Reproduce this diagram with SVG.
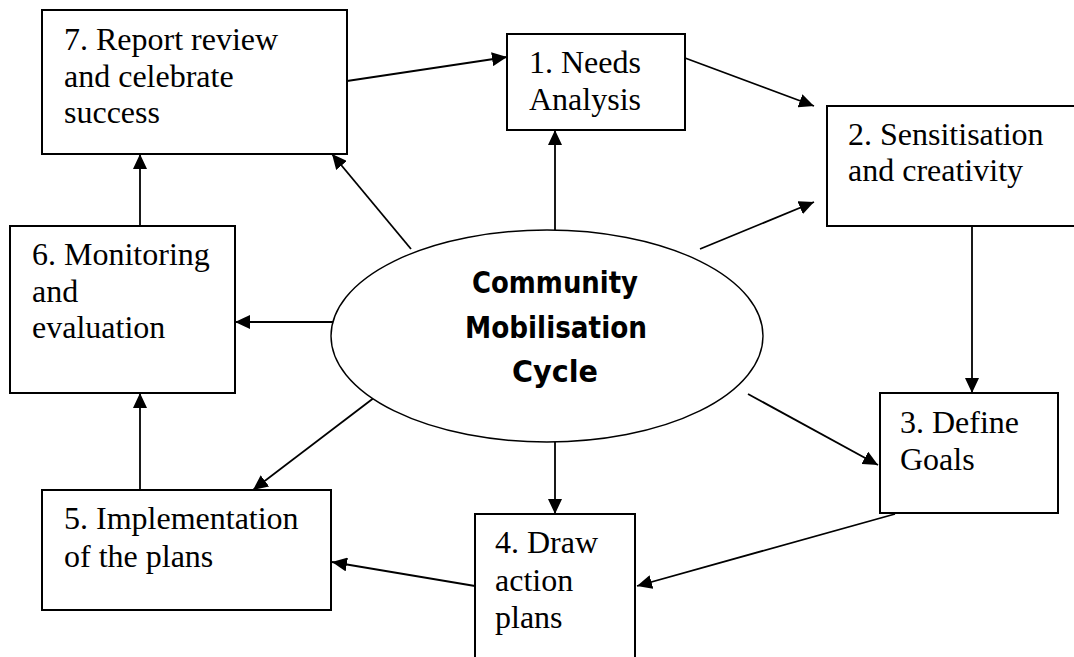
<svg xmlns="http://www.w3.org/2000/svg" width="1074" height="657" viewBox="0 0 1074 657">
<style>
.box{fill:#fff;stroke:#000;stroke-width:2}
.t{font-family:"Liberation Serif","Times New Roman",serif;font-size:32px;fill:#000}
.c{fill:none;stroke:#000;stroke-width:1.8;marker-end:url(#ah)}
.hub{fill:#fff;stroke:#000;stroke-width:1.4}
.ht{font-family:"DejaVu Sans",sans-serif;font-weight:bold;font-size:30px;fill:#000;text-anchor:middle}
</style>
<defs>
<marker id="ah" markerUnits="userSpaceOnUse" markerWidth="16" markerHeight="14" refX="15" refY="7" orient="auto">
<path d="M0,0 L15,7 L0,14 z" fill="#000"/>
</marker>
</defs>
<rect width="1074" height="657" fill="#fff"/>
<g id="connectors">
<line class="c" x1="347" y1="81" x2="507" y2="57"/>
<line class="c" x1="685" y1="58" x2="814" y2="106"/>
<line class="c" x1="700" y1="249" x2="814" y2="202"/>
<line class="c" x1="555" y1="230" x2="555" y2="130"/>
<line class="c" x1="972" y1="226" x2="972" y2="393"/>
<line class="c" x1="748" y1="394" x2="878" y2="465"/>
<line class="c" x1="895" y1="514" x2="637" y2="586"/>
<line class="c" x1="555" y1="442" x2="555" y2="514"/>
<line class="c" x1="475" y1="586" x2="332" y2="562"/>
<line class="c" x1="379" y1="394" x2="253" y2="490"/>
<line class="c" x1="140" y1="490" x2="140" y2="393"/>
<line class="c" x1="333" y1="322" x2="235" y2="322"/>
<line class="c" x1="140" y1="226" x2="140" y2="154"/>
<line class="c" x1="411" y1="249" x2="332" y2="154"/>
</g>
<g id="hub">
<ellipse class="hub" cx="547" cy="336" rx="216" ry="106"/>
<text class="ht" x="555" y="293" textLength="166" lengthAdjust="spacingAndGlyphs">Community</text>
<text class="ht" x="556" y="338" textLength="182" lengthAdjust="spacingAndGlyphs">Mobilisation</text>
<text class="ht" x="555" y="382" textLength="86" lengthAdjust="spacingAndGlyphs">Cycle</text>
</g>
<g id="n7">
<rect class="box" x="42" y="10" width="305" height="144"/>
<text class="t" x="64" y="50">7. Report review</text>
<text class="t" x="64" y="87">and celebrate</text>
<text class="t" x="64" y="123">success</text>
</g>
<g id="n1">
<rect class="box" x="507" y="34" width="178" height="96"/>
<text class="t" x="529" y="73">1. Needs</text>
<text class="t" x="529" y="110">Analysis</text>
</g>
<g id="n2">
<rect class="box" x="827" y="106" width="260" height="120"/>
<text class="t" x="848" y="145">2. Sensitisation</text>
<text class="t" x="848" y="181">and creativity</text>
</g>
<g id="n3">
<rect class="box" x="880" y="393" width="178" height="120"/>
<text class="t" x="900" y="433">3. Define</text>
<text class="t" x="900" y="470">Goals</text>
</g>
<g id="n4">
<rect class="box" x="475" y="514" width="160" height="160"/>
<text class="t" x="495" y="553">4. Draw</text>
<text class="t" x="495" y="591">action</text>
<text class="t" x="495" y="628">plans</text>
</g>
<g id="n5">
<rect class="box" x="42" y="490" width="289" height="120"/>
<text class="t" x="64" y="529">5. Implementation</text>
<text class="t" x="64" y="567">of the plans</text>
</g>
<g id="n6">
<rect class="box" x="10" y="226" width="225" height="167"/>
<text class="t" x="32" y="265">6. Monitoring</text>
<text class="t" x="32" y="302">and</text>
<text class="t" x="32" y="338">evaluation</text>
</g>
</svg>
